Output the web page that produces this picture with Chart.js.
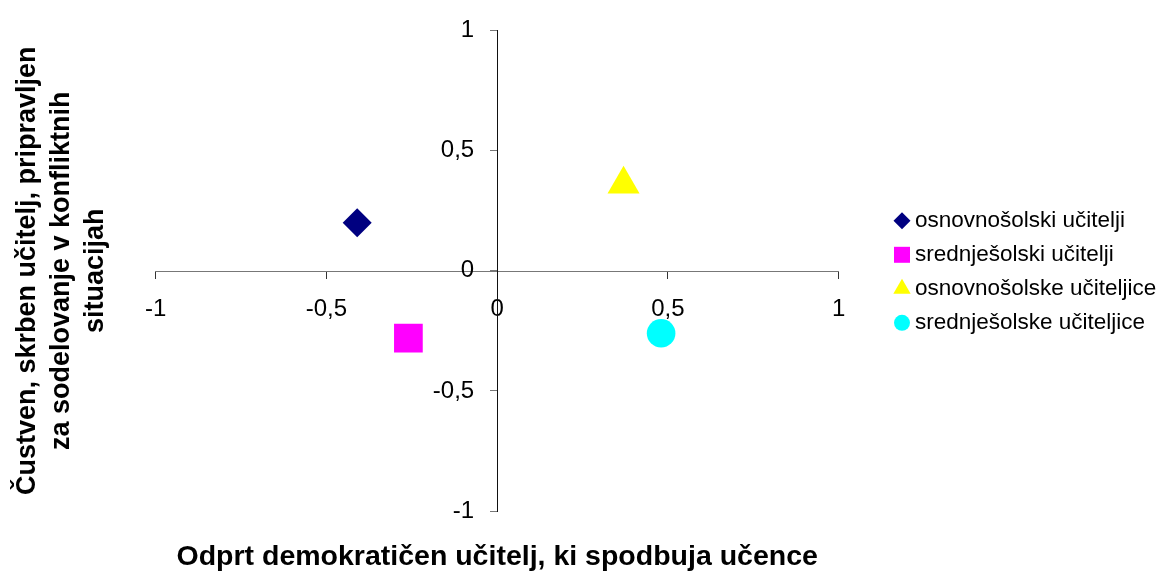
<!DOCTYPE html>
<html>
<head>
<meta charset="utf-8">
<script src="https://cdn.jsdelivr.net/npm/chart.js@4/dist/chart.umd.min.js"></script>
<style>
  html, body { margin: 0; padding: 0; background: #ffffff; }
  canvas { display: block; }
</style>
</head>
<body>
<canvas id="chart" width="1161" height="571"></canvas>
<script>
// Teacher groups and their positions on the two dimensions
const seriesNames = ['osnovnošolski učitelji', 'srednješolski učitelji', 'osnovnošolske učiteljice', 'srednješolske učiteljice'];
const xValues = [-0.41, -0.26, 0.37, 0.48];
const yValues = [0.20, -0.28, 0.36, -0.26];

// Axis ticks
const xTickValues = [-1, -0.5, 0, 0.5, 1];
const xTickLabels = ['-1', '-0,5', '0', '0,5', '1'];
const yTickValues = [-1, -0.5, 0, 0.5, 1];
const yTickLabels = ['-1', '-0,5', '0', '0,5', '1'];

// Axis titles
const xTitle = 'Odprt demokratičen učitelj, ki spodbuja učence';
const yTitle = ['Čustven, skrben učitelj, pripravljen', 'za sodelovanje v konfliktnih', 'situacijah'];

// Marker styling
const seriesColors = ['#000080', '#FF00FF', '#FFFF00', '#00FFFF'];
const markerStyles = ['rectRot', 'rect', 'triangle', 'circle'];
const markerRadius = [14.5, 20.3, 18.5, 14.3];
const legendRadius = [8.5, 11.3, 10, 8];

const FONT = "'Liberation Sans', Arial, Helvetica, sans-serif";

const datasets = seriesNames.map((name, i) => ({
  label: name,
  data: [{ x: xValues[i], y: yValues[i] }],
  pointStyle: markerStyles[i],
  pointRadius: markerRadius[i],
  pointHoverRadius: markerRadius[i],
  backgroundColor: seriesColors[i],
  borderColor: seriesColors[i],
  pointBorderWidth: 0,
  showLine: false
}));

// Legend on the right: marker followed by the series name
const sideLegend = {
  id: 'sideLegend',
  afterDraw(chart) {
    const ctx = chart.ctx;
    const markerX = 902, textX = 915, firstBaseline = 227.3, rowStep = 34;
    ctx.save();
    ctx.font = '22.5px ' + FONT;
    ctx.textAlign = 'left';
    ctx.textBaseline = 'alphabetic';
    chart.data.datasets.forEach((ds, i) => {
      const base = firstBaseline + i * rowStep;
      ctx.fillStyle = ds.backgroundColor;
      ctx.strokeStyle = ds.backgroundColor;
      Chart.helpers.drawPoint(ctx, {
        pointStyle: ds.pointStyle,
        radius: legendRadius[i],
        rotation: 0,
        borderWidth: 0
      }, markerX, base - 6.5);
      ctx.fillStyle = '#000000';
      ctx.fillText(ds.label, textX, base);
    });
    ctx.restore();
  }
};

new Chart(document.getElementById('chart'), {
  type: 'scatter',
  data: { datasets },
  plugins: [sideLegend],
  options: {
    responsive: false,
    animation: false,
    events: [],
    layout: { padding: { top: 27.3, right: 322.3, bottom: 0, left: 0 } },
    plugins: {
      legend: { display: false },
      tooltip: { enabled: false },
      title: {
        display: true,
        text: xTitle,
        position: 'bottom',
        fullSize: false,
        color: '#000000',
        font: { family: FONT, size: 28.5, weight: 'bold', lineHeight: 0.944 },
        padding: { top: 33, bottom: 0 }
      },
      subtitle: {
        display: true,
        text: yTitle,
        position: 'left',
        fullSize: false,
        color: '#000000',
        font: { family: FONT, size: 27, weight: 'bold', lineHeight: 1.259 },
        padding: { top: 11, bottom: 42.7 }
      }
    },
    scales: {
      x: {
        type: 'linear',
        position: 'center',
        min: -1,
        max: 1,
        afterBuildTicks: axis => { axis.ticks = xTickValues.map(v => ({ value: v })); },
        ticks: {
          autoSkip: false,
          maxRotation: 0,
          padding: 17,
          color: '#000000',
          font: { family: FONT, size: 24 },
          callback: (v, i) => xTickLabels[i]
        },
        grid: { drawOnChartArea: false, drawTicks: true, tickLength: 7, tickColor: '#333333' },
        border: { display: true, color: '#777777', width: 1 }
      },
      y: {
        type: 'linear',
        position: 'center',
        min: -1,
        max: 1,
        afterBuildTicks: axis => { axis.ticks = yTickValues.map(v => ({ value: v })); },
        ticks: {
          autoSkip: false,
          padding: 16,
          color: '#000000',
          font: { family: FONT, size: 24 },
          callback: (v, i) => yTickLabels[i]
        },
        grid: { drawOnChartArea: false, drawTicks: true, tickLength: 7, tickColor: '#777777' },
        border: { display: true, color: '#111111', width: 1 }
      }
    }
  }
});
</script>
</body>
</html>
